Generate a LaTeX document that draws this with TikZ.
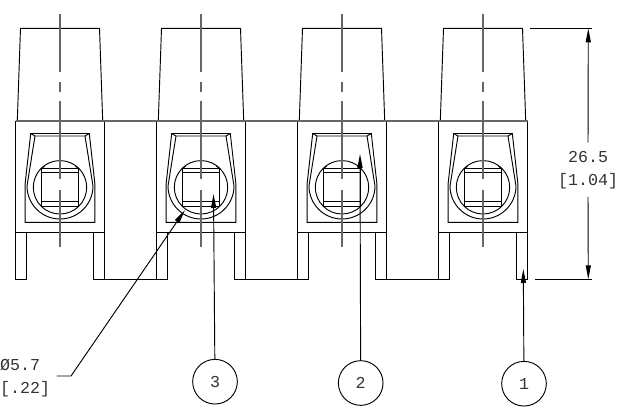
\documentclass[tikz,border=0pt]{standalone}
\usepackage{fontspec}
\setmonofont{Liberation Mono}
\usetikzlibrary{arrows.meta}
\tikzset{>={Stealth[length=10.5pt,width=3.8pt,inset=0pt]}}
\tikzset{
  part/.style={line width=0.7pt,black},
  axis/.style={line width=0.85pt,black!60},
  leader/.style={line width=0.7pt,black},
  dimtext/.style={font=\ttfamily\fontsize{12.5}{14}\selectfont,text=black!80,anchor=base,inner sep=6pt},
  dialabeltext/.style={dimtext,anchor=base east,inner sep=0pt},
  balloon/.style={draw=black,line width=0.7pt,circle,minimum size=33.5pt,inner sep=0pt,font=\ttfamily\fontsize{12.5}{14}\selectfont,text=black!80}
}
\begin{document}
\begin{tikzpicture}[x=0.75pt,y=-0.75pt]
\useasboundingbox (0,0) rectangle (634,417);
\foreach \cx in {60,201,342,483}{
\begin{scope}[shift={(\cx,0)}]
\draw[part] (-42.7,121) -- (-39.5,28.3) -- (39.5,28.3) -- (42.7,121);
\draw[part] (-44.5,121) -- (-44.5,279.3) -- (-33.7,279.3) -- (-33.7,232.7);
\draw[part] (44.5,121) -- (44.5,279.3) -- (33.7,279.3) -- (33.7,232.7);
\draw[part] (-44.5,232.7) -- (44.5,232.7);
\draw[part] (-29.3,133.5) -- (-34.8,183) -- (-34.8,222.3) -- (34.8,222.3) -- (34.8,183) -- (29.3,133.5) -- cycle;
\draw[part] (-25,136) -- (-33,186) arc[start angle=180,end angle=0,radius=33] -- (25,136);
\draw[part] (-29.3,133.5) -- (-25,136) -- (25,136) -- (29.3,133.5);
\draw[part] (0,187.3) circle[radius=26.7];
\draw[part] (-18.2,168.5) rectangle (18.2,206.5);
\draw[part] (-18.2,172) -- (18.2,172) (-18.2,201.5) -- (18.2,201.5);
\draw[part] (-18.2,168.5) -- (-15,165.5) (18.2,168.5) -- (15,165.5);
\draw[axis] (0,14) -- (0,72.3) (0,82) -- (0,91.7) (0,101) -- (0,179) (0,190) -- (0,247);
\end{scope}
}
\draw[axis] (15.5,121) -- (527.5,121);
\foreach \cx in {104.5,245.5,386.5}{
\draw[part] (\cx,279.3) -- ++(52,0);
}
\node[dimtext] (dimval) at (588,162) {26.5};
\node[dimtext] (dimunit) at (588,185) {[1.04]};
\node[dialabeltext] (dialabel) at (40.5,370.7) {Ø5.7};
\node[dialabeltext] (diaunit) at (50.5,393) {[.22]};
\node[balloon] (ballonthree) at (215,381.7) {3};
\node[balloon] (ballontwo) at (360.7,383) {2};
\node[balloon] (ballonone) at (524,383.7) {1};
\coordinate (dimtop) at (588.3,28.3);
\coordinate (dimbot) at (588.3,279.3);
\coordinate (tipone) at (523.3,269);
\coordinate (tiptwo) at (360,154);
\coordinate (tipthree) at (213.5,194);
\coordinate (tipdia) at (185,210);
\coordinate (leadstart) at (56.7,376);
\coordinate (leadknee) at (71,376);
\draw[part] (530,28.3) -- (591.7,28.3);
\draw[part] (535,279.3) -- (591.7,279.3);
\draw[leader,->] (dimval.north) -- (dimtop);
\draw[leader,->] (dimunit.south) -- (dimbot);
\draw[leader,->] (ballonone) -- (tipone);
\draw[leader,->] (ballontwo) -- (tiptwo);
\draw[leader,->] (ballonthree) -- (tipthree);
\draw[leader,->] (leadstart) -- (leadknee) -- (tipdia);
\end{tikzpicture}
\end{document}
